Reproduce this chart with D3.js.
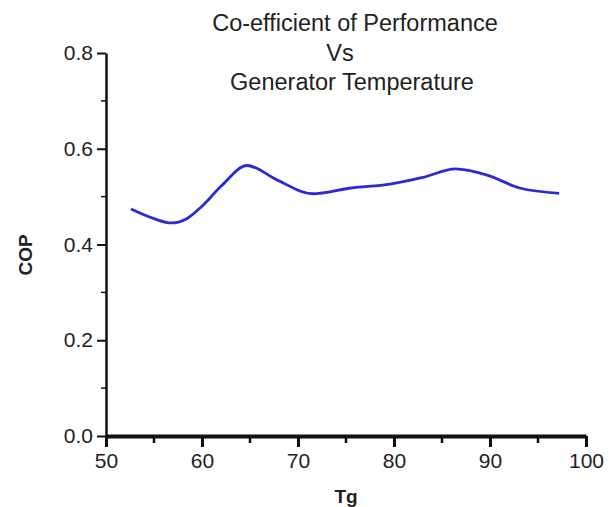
<!DOCTYPE html>
<html>
<head>
<meta charset="utf-8">
<script src="https://cdn.jsdelivr.net/npm/d3@7"></script>
<style>
  body { margin: 0; background: #fff; }
  text { font-family: "Liberation Sans", Arial, sans-serif; fill: #222; }
</style>
</head>
<body>
<div id="chart"></div>
<script>
// data
var tg = [52.6, 55, 56.8, 58.5, 60, 62, 64.7, 67.8, 71.5, 75.5, 79.6, 83, 86.4, 89.7, 93.1, 97.2];
var cop = [0.474, 0.454, 0.445, 0.455, 0.48, 0.522, 0.565, 0.535, 0.506, 0.518, 0.526, 0.54, 0.558, 0.545, 0.518, 0.507];
var xTicks = [50, 60, 70, 80, 90, 100];
var yTicks = [0.0, 0.2, 0.4, 0.6, 0.8];
var titleLines = ["Co-efficient of Performance", "Vs", "Generator Temperature"];

var W = 616, H = 507;
var svg = d3.select("#chart").append("svg")
  .attr("width", W)
  .attr("height", H);

var x = d3.scaleLinear().domain([50, 100]).range([106, 586]);
var y = d3.scaleLinear().domain([0, 0.8]).range([436, 53]);

var pts = tg.map(function(d, i) { return {x: d, y: cop[i]}; });

// minor ticks
svg.selectAll(".xminor")
  .data(d3.range(55, 100, 10))
  .enter().append("line")
    .attr("x1", function(d) { return x(d); })
    .attr("x2", function(d) { return x(d); })
    .attr("y1", 436).attr("y2", 443)
    .attr("stroke", "#111").attr("stroke-width", 2.5);

svg.selectAll(".yminor")
  .data([0.1, 0.3, 0.5, 0.7])
  .enter().append("line")
    .attr("x1", 106).attr("x2", 101)
    .attr("y1", function(d) { return y(d); })
    .attr("y2", function(d) { return y(d); })
    .attr("stroke", "#111").attr("stroke-width", 1.5);

// x axis
var xAxis = svg.append("g")
  .attr("transform", "translate(0,436)")
  .call(d3.axisBottom(x).tickValues(xTicks).tickFormat(d3.format("d")).tickSize(11).tickSizeOuter(0));
xAxis.select(".domain").attr("stroke", "#111").attr("stroke-width", 4);
xAxis.selectAll(".tick line").attr("stroke", "#111").attr("stroke-width", 3);
xAxis.selectAll(".tick text").attr("font-size", 21).attr("y", 32).attr("dy", 0).attr("fill", "#333")
  .style("font-family", "Liberation Sans, Arial, sans-serif");

// y axis
var yAxis = svg.append("g")
  .attr("transform", "translate(106,0)")
  .call(d3.axisLeft(y).tickValues(yTicks).tickFormat(d3.format(".1f")).tickSize(9).tickSizeOuter(0));
yAxis.select(".domain").attr("stroke", "#111").attr("stroke-width", 2.5);
yAxis.selectAll(".tick line").attr("stroke", "#111").attr("stroke-width", 2);
yAxis.selectAll(".tick text").attr("font-size", 21).attr("fill", "#333").attr("x", -13)
  .style("font-family", "Liberation Sans, Arial, sans-serif");

// curve
var line = d3.line()
  .x(function(d) { return x(d.x); })
  .y(function(d) { return y(d.y); })
  .curve(d3.curveMonotoneX);

svg.append("path")
  .datum(pts)
  .attr("d", line)
  .attr("fill", "none")
  .attr("stroke", "#2b2bd6")
  .attr("stroke-width", 2.8);

// title
var titleX = [355, 340, 352];
svg.selectAll(".title")
  .data(titleLines)
  .enter().append("text")
    .attr("x", function(d, i) { return titleX[i]; })
    .attr("y", function(d, i) { return 31 + i * 29.5; })
    .attr("text-anchor", "middle")
    .attr("font-size", 23.5)
    .attr("fill", "#333")
    .text(function(d) { return d; });

// axis labels
svg.append("text")
  .attr("x", 346).attr("y", 503)
  .attr("text-anchor", "middle")
  .attr("font-size", 19).attr("font-weight", "bold")
  .text("Tg");

svg.append("text")
  .attr("transform", "translate(32,255) rotate(-90)")
  .attr("text-anchor", "middle")
  .attr("font-size", 19).attr("font-weight", "bold")
  .text("COP");
</script>
</body>
</html>
